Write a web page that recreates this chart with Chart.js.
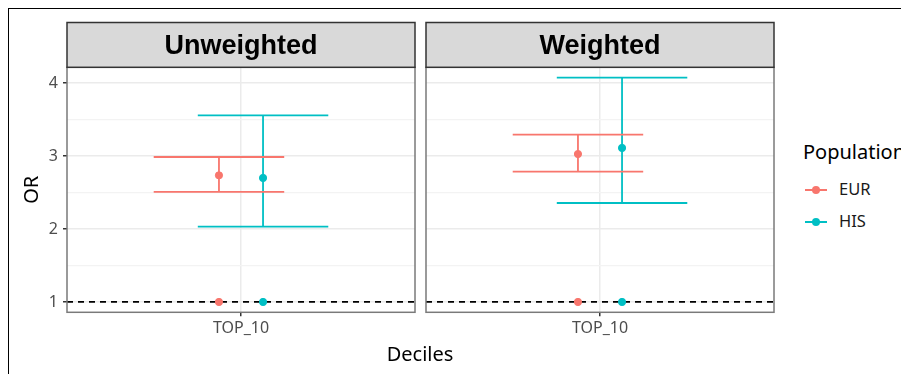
<!DOCTYPE html>
<html>
<head>
<meta charset="utf-8">
<script src="https://cdn.jsdelivr.net/npm/chart.js@4/dist/chart.umd.min.js"></script>
<style>
  html, body { margin:0; padding:0; background:#fff; }
  #wrap { position:relative; width:901px; height:374px; overflow:hidden; background:#fff; font-family:"Noto Sans", sans-serif; }
  #frame { position:absolute; left:8px; top:8px; width:1000px; height:500px; border-left:1.5px solid #000; border-top:1.5px solid #000; }
  canvas { position:absolute; top:0; }
  #c1 { left:0; }
  #c2 { left:420px; }
  #xtitle { position:absolute; left:320px; width:200px; text-align:center; top:342px; font-size:20px; color:#000; line-height:24px; }
  #legend { position:absolute; left:803px; top:139px; color:#000; }
  #legend .ttl { font-size:20px; line-height:26px; white-space:nowrap; margin-bottom:9px; }
  #legend .item { position:relative; height:32px; }
  #legend .ln { position:absolute; left:2px; width:22px; height:2px; top:15px; }
  #legend .dt { position:absolute; left:9px; width:8px; height:8px; border-radius:50%; top:12px; }
  #legend .lb { position:absolute; left:36px; top:4px; font-size:16.5px; line-height:22px; color:#1a1a1a; }
</style>
</head>
<body>
<div id="wrap">
  <div id="frame"></div>
  <canvas id="c1" width="420" height="374" style="width:420px;height:374px"></canvas>
  <canvas id="c2" width="360" height="374" style="width:360px;height:374px"></canvas>
  <div id="xtitle">Deciles</div>
  <div id="legend">
    <div class="ttl">Population</div>
    <div class="item"><div class="ln" style="background:#F8766D"></div><div class="dt" style="background:#F8766D"></div><div class="lb">EUR</div></div>
    <div class="item"><div class="ln" style="background:#00BFC4"></div><div class="dt" style="background:#00BFC4"></div><div class="lb">HIS</div></div>
  </div>
</div>
<script>
// ---- data ----
const panels = ['Unweighted', 'Weighted'];
const categories = ['TOP_10'];
const populations = ['EUR', 'HIS'];
const eurOR   = [2.735, 3.027];
const eurLow  = [2.507, 2.785];
const eurHigh = [2.986, 3.292];
const hisOR   = [2.699, 3.110];
const hisLow  = [2.032, 2.356];
const hisHigh = [3.557, 4.073];
const nullOR  = [1, 1];          // reference points at OR = 1
const refLine = 1;
const yTicks = [1, 1.5, 2, 2.5, 3, 3.5, 4];

const COLORS = { EUR: '#F8766D', HIS: '#00BFC4' };
const DODGE = 0.076, CAP = 0.225;
const X_MIN = 0.4, X_MAX = 1.6, Y_MIN = 0.8585, Y_MAX = 4.215;

function errorbar(xc, lo, hi) {
  return [
    {x: xc - CAP, y: hi}, {x: xc + CAP, y: hi}, {x: xc, y: null},
    {x: xc, y: hi}, {x: xc, y: lo}, {x: xc, y: null},
    {x: xc - CAP, y: lo}, {x: xc + CAP, y: lo}
  ];
}

const panelPlugin = {
  id: 'panelDecor',
  afterDraw(chart, args, opts) {
    const {ctx, chartArea: a} = chart;
    ctx.save();
    ctx.strokeStyle = '#7a7a7a';
    ctx.lineWidth = 1.5;
    ctx.strokeRect(a.left, a.top, a.right - a.left, a.bottom - a.top);
    const sTop = 22.5, sH = a.top - sTop;
    ctx.fillStyle = '#d9d9d9';
    ctx.fillRect(a.left, sTop, a.right - a.left, sH);
    ctx.strokeStyle = '#333';
    ctx.lineWidth = 1.5;
    ctx.strokeRect(a.left, sTop, a.right - a.left, sH);
    ctx.fillStyle = '#000';
    ctx.font = 'bold 27px "Liberation Sans", Arial, sans-serif';
    ctx.textAlign = 'center';
    ctx.textBaseline = 'middle';
    ctx.fillText(opts.title, (a.left + a.right) / 2, sTop + sH / 2 + 1.5);
    ctx.restore();
  }
};

function makeChart(id, pi, showY) {
  const xc = 1; // category position (TOP_10)
  const datasets = [
    { data: [{x: xc - DODGE, y: eurOR[pi]}], backgroundColor: COLORS.EUR, borderColor: COLORS.EUR, pointRadius: 3.6, showLine: false },
    { data: [{x: xc + DODGE, y: hisOR[pi]}], backgroundColor: COLORS.HIS, borderColor: COLORS.HIS, pointRadius: 3.6, showLine: false },
    { data: [{x: xc - DODGE, y: nullOR[pi]}], backgroundColor: COLORS.EUR, borderColor: COLORS.EUR, pointRadius: 3.6, showLine: false },
    { data: [{x: xc + DODGE, y: nullOR[pi]}], backgroundColor: COLORS.HIS, borderColor: COLORS.HIS, pointRadius: 3.6, showLine: false },
    { data: errorbar(xc - DODGE, eurLow[pi], eurHigh[pi]), borderColor: COLORS.EUR, borderWidth: 1.8, pointRadius: 0, showLine: true, spanGaps: false },
    { data: errorbar(xc + DODGE, hisLow[pi], hisHigh[pi]), borderColor: COLORS.HIS, borderWidth: 1.8, pointRadius: 0, showLine: true, spanGaps: false },
    { data: [{x: X_MIN, y: refLine}, {x: X_MAX, y: refLine}], borderColor: '#000', borderWidth: 1.8, borderDash: [6, 5], pointRadius: 0, showLine: true }
  ];
  return new Chart(document.getElementById(id), {
    type: 'scatter',
    data: { datasets },
    plugins: [panelPlugin],
    options: {
      responsive: false,
      animation: false,
      events: [],
      layout: { padding: showY ? {left: 0, right: 5, top: 67.3, bottom: 0} : {left: 6, right: 6, top: 67.3, bottom: 0} },
      plugins: {
        legend: { display: false },
        tooltip: { enabled: false },
        panelDecor: { title: panels[pi] }
      },
      scales: {
        x: {
          type: 'linear', min: X_MIN, max: X_MAX,
          afterBuildTicks: s => { s.ticks = [{value: 1}]; },
          afterFit: s => { s.height = 374 - 312.3; },
          ticks: { callback: () => categories[0], color: '#4d4d4d', font: { family: '"Noto Sans"', size: 16 }, padding: 3, maxRotation: 0 },
          grid: { color: '#ebebeb', lineWidth: 1.5, tickLength: 4, tickColor: '#333', tickWidth: 1.5 },
          border: { display: false }
        },
        y: {
          type: 'linear', min: Y_MIN, max: Y_MAX,
          afterBuildTicks: s => { s.ticks = yTicks.map(v => ({value: v})); },
          afterFit: s => { s.width = showY ? 67 : 0; },
          ticks: {
            display: showY,
            callback: v => (Number.isInteger(v) ? String(v) : ''),
            color: '#4d4d4d', font: { family: '"Noto Sans"', size: 16 }, padding: 5
          },
          grid: {
            color: c => (Number.isInteger(c.tick.value) ? '#ebebeb' : '#f3f3f3'),
            lineWidth: c => (Number.isInteger(c.tick.value) ? 1.5 : 1.2),
            drawTicks: showY,
            tickLength: 4,
            tickColor: c => (Number.isInteger(c.tick.value) ? '#333' : 'rgba(0,0,0,0)'),
            tickWidth: 1.5
          },
          border: { display: false },
          title: {
            display: showY, text: 'OR', color: '#000',
            font: { family: '"Noto Sans"', size: 20 },
            padding: { top: 20, bottom: 0 }
          }
        }
      }
    }
  });
}

makeChart('c1', 0, true);
makeChart('c2', 1, false);
</script>
</body>
</html>
